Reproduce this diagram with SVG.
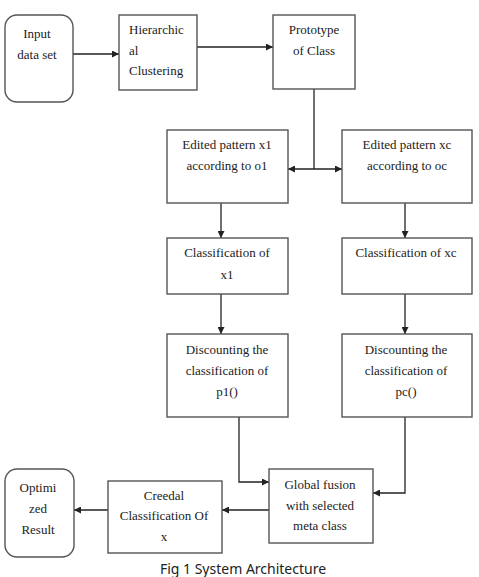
<svg xmlns="http://www.w3.org/2000/svg" width="479" height="577" viewBox="0 0 479 577">
<style>
.box{fill:#fff;stroke:#555;stroke-width:1.4}
.t{font-size:13px;fill:#222;text-anchor:middle}
.l{text-anchor:start}
.c{fill:none;stroke:#222;stroke-width:1.3}
.cap{font-size:14px;fill:#222;text-anchor:middle}
</style>
<defs>
<marker id="ah" viewBox="0 0 10 10" refX="10" refY="5" markerWidth="7" markerHeight="7" orient="auto-start-reverse" markerUnits="userSpaceOnUse"><path d="M0,0 L10,5 L0,10 z" fill="#222"/></marker>
</defs>
<rect width="479" height="577" fill="#fff"/>
<g id="connectors">
<line class="c" x1="73" y1="54" x2="119" y2="54" marker-end="url(#ah)"/>
<line class="c" x1="197" y1="47" x2="273" y2="47" marker-end="url(#ah)"/>
<line class="c" x1="314" y1="89" x2="314" y2="169"/>
<line class="c" x1="288" y1="169" x2="342" y2="169" marker-start="url(#ah)" marker-end="url(#ah)"/>
<line class="c" x1="221" y1="203" x2="221" y2="238" marker-end="url(#ah)"/>
<line class="c" x1="405" y1="203" x2="405" y2="238" marker-end="url(#ah)"/>
<line class="c" x1="221" y1="294" x2="221" y2="334" marker-end="url(#ah)"/>
<line class="c" x1="405" y1="294" x2="405" y2="334" marker-end="url(#ah)"/>
<polyline class="c" points="239,417 239,482 269,482" marker-end="url(#ah)"/>
<polyline class="c" points="405,417 405,493 373,493" marker-end="url(#ah)"/>
<line class="c" x1="269" y1="510" x2="222" y2="510" marker-end="url(#ah)"/>
<line class="c" x1="108" y1="510" x2="74" y2="510" marker-end="url(#ah)"/>
</g>
<g font-family="'Liberation Serif', 'DejaVu Serif', serif">
<g id="input"><rect class="box" x="5" y="15" width="68" height="87" rx="12"/><text class="t" x="37" y="38">Input</text><text class="t" x="37" y="59">data set</text></g>
<g id="hier"><rect class="box" x="119" y="15" width="78" height="75"/><text class="t l" x="129" y="34">Hierarchic</text><text class="t l" x="129" y="55">al</text><text class="t l" x="129" y="75">Clustering</text></g>
<g id="proto"><rect class="box" x="273" y="15" width="82" height="74"/><text class="t" x="314" y="34">Prototype</text><text class="t" x="314" y="55">of Class</text></g>
<g id="edit1"><rect class="box" x="167" y="130" width="121" height="73"/><text class="t" x="227" y="149">Edited pattern x1</text><text class="t" x="227" y="170">according to o1</text></g>
<g id="editc"><rect class="box" x="342" y="130" width="130" height="73"/><text class="t" x="407" y="149">Edited pattern xc</text><text class="t" x="407" y="170">according to oc</text></g>
<g id="class1"><rect class="box" x="167" y="238" width="121" height="56"/><text class="t" x="227" y="257">Classification of</text><text class="t" x="227" y="279">x1</text></g>
<g id="classc"><rect class="box" x="342" y="238" width="130" height="56"/><text class="t" x="406" y="257">Classification of xc</text></g>
<g id="disc1"><rect class="box" x="167" y="334" width="121" height="83"/><text class="t" x="227" y="354">Discounting the</text><text class="t" x="227" y="375">classification of</text><text class="t" x="227" y="396">p1()</text></g>
<g id="discc"><rect class="box" x="342" y="334" width="130" height="83"/><text class="t" x="406" y="354">Discounting the</text><text class="t" x="406" y="375">classification of</text><text class="t" x="406" y="396">pc()</text></g>
<g id="global"><rect class="box" x="269" y="469" width="104" height="74"/><text class="t" x="320" y="489">Global fusion</text><text class="t" x="320" y="510">with selected</text><text class="t" x="320" y="530">meta class</text></g>
<g id="creedal"><rect class="box" x="108" y="481" width="114" height="72"/><text class="t" x="164" y="500">Creedal</text><text class="t" x="164" y="520">Classification Of</text><text class="t" x="164" y="541">x</text></g>
<g id="optim"><rect class="box" x="5" y="469" width="69" height="88" rx="12"/><text class="t" x="38" y="492">Optimi</text><text class="t" x="38" y="513">zed</text><text class="t" x="38" y="534">Result</text></g>
</g>
<text class="cap" font-family="'Noto Sans', 'DejaVu Sans', sans-serif" x="243" y="574">Fig 1 System Architecture</text>
</svg>
